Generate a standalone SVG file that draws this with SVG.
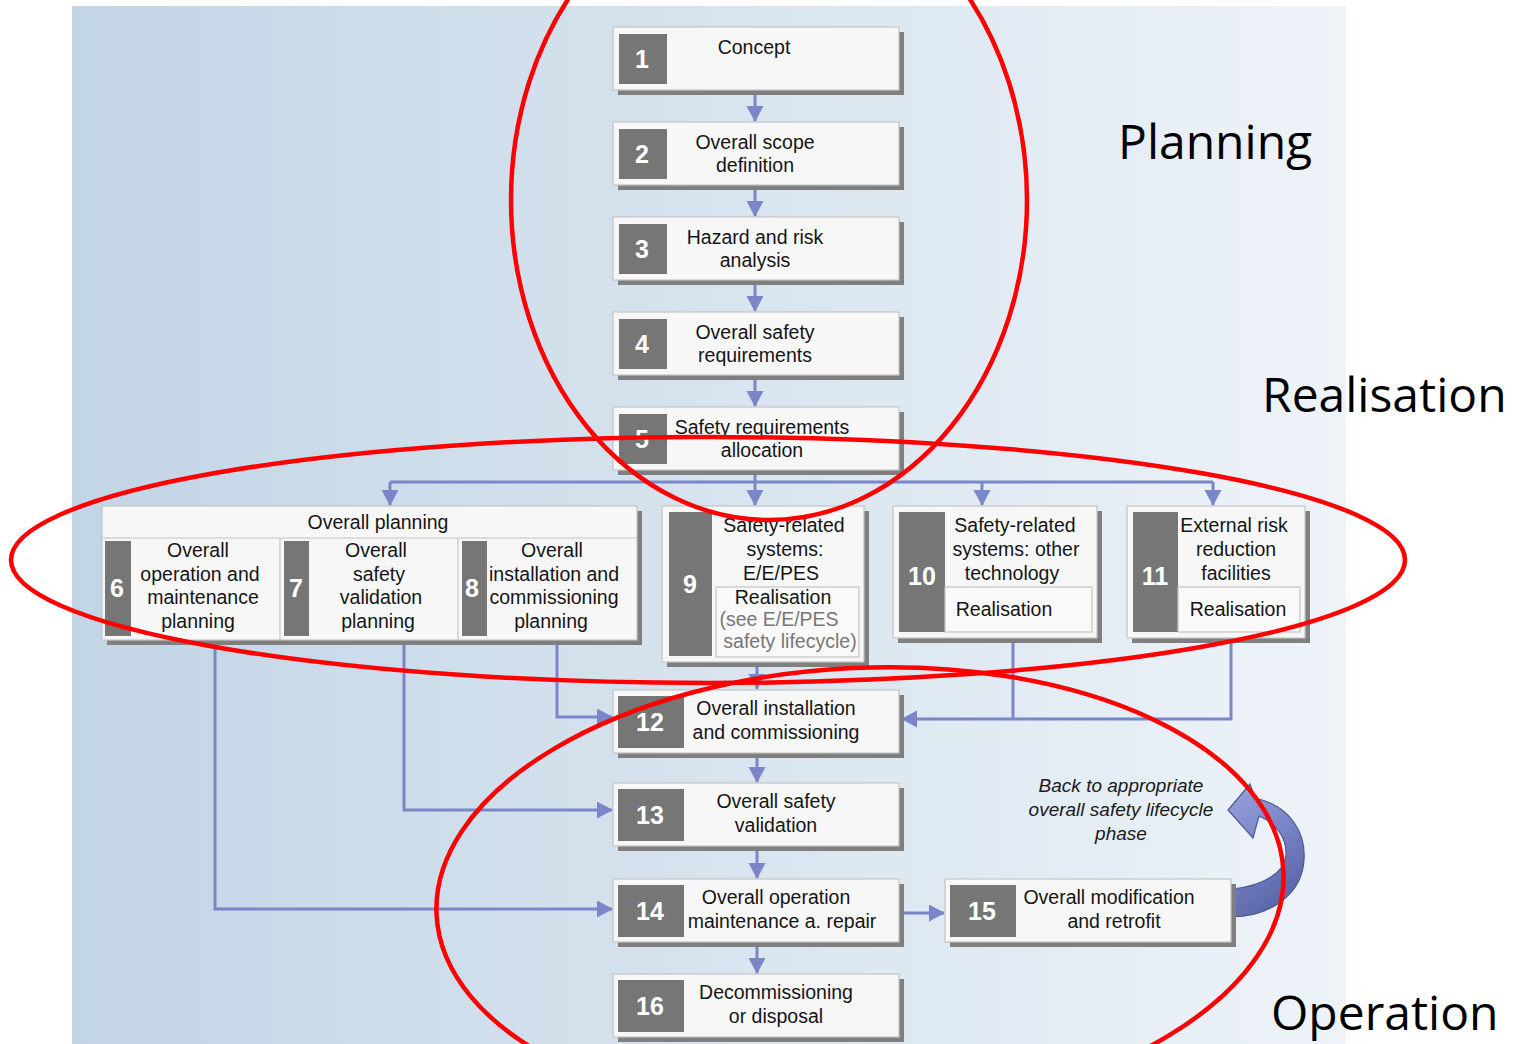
<svg xmlns="http://www.w3.org/2000/svg" width="1515" height="1044" viewBox="0 0 1515 1044">
  <defs>
    <linearGradient id="bg" x1="0" y1="0" x2="1" y2="0">
      <stop offset="0" stop-color="#c2d5e6"/>
      <stop offset="0.55" stop-color="#d9e5ef"/>
      <stop offset="1" stop-color="#eef3f8"/>
    </linearGradient>
    <linearGradient id="loop" x1="0" y1="0" x2="0.4" y2="1">
      <stop offset="0" stop-color="#9aa4de"/>
      <stop offset="0.5" stop-color="#7b86c8"/>
      <stop offset="1" stop-color="#5c67a8"/>
    </linearGradient>
    <marker id="ah" markerUnits="userSpaceOnUse" markerWidth="18" markerHeight="18" refX="15" refY="8.5" orient="auto">
      <path d="M0,0 L16,8.5 L0,17 Z" fill="#7b86c8"/>
    </marker>
    <style>
      .box { fill: #f7f7f7; stroke: #c4c4c4; stroke-width: 1.2; }
      .sub { fill: #f9f9f9; stroke: #c4c4c4; stroke-width: 1.2; }
      .shadow { fill: #7f7f7f; }
      .num { fill: #767676; }
      .numt { font-family: "Liberation Sans", Arial, sans-serif; font-size: 25px; font-weight: bold; fill: #ffffff; text-anchor: middle; }
      .t { font-family: "Liberation Sans", Arial, sans-serif; font-size: 19.5px; fill: #151515; text-anchor: middle; }
      .g { fill: #777777; }
      .it { font-family: "Liberation Sans", Arial, sans-serif; font-size: 19px; font-style: italic; fill: #1a1a1a; text-anchor: middle; }
      .lbl { font-family: "Open Sans", "Noto Sans", sans-serif; font-size: 48px; fill: #000000; }
      .wire { fill: none; stroke: #7b86c8; stroke-width: 3; }
      .ring { fill: none; stroke: #ff0000; stroke-width: 4.5; }
    </style>
  </defs>

  <!-- backdrop -->
  <rect x="0" y="0" width="1515" height="1044" fill="#ffffff"/>
  <rect x="72" y="6" width="1274" height="1038" fill="url(#bg)"/>

  <!-- connectors -->
  <g id="connectors">
    <path class="wire" d="M755,90 V121" marker-end="url(#ah)"/>
    <path class="wire" d="M755,185 V216" marker-end="url(#ah)"/>
    <path class="wire" d="M755,280 V311" marker-end="url(#ah)"/>
    <path class="wire" d="M755,375 V406" marker-end="url(#ah)"/>
    <path class="wire" d="M755,470 V505" marker-end="url(#ah)"/>
    <path class="wire" d="M390,482 H1213"/>
    <path class="wire" d="M390,482 V505" marker-end="url(#ah)"/>
    <path class="wire" d="M982,482 V505" marker-end="url(#ah)"/>
    <path class="wire" d="M1213,482 V505" marker-end="url(#ah)"/>
    <path class="wire" d="M757,664 V689" marker-end="url(#ah)"/>
    <path class="wire" d="M557,642 V717 H612" marker-end="url(#ah)"/>
    <path class="wire" d="M404,642 V810 H612" marker-end="url(#ah)"/>
    <path class="wire" d="M215,642 V909 H612" marker-end="url(#ah)"/>
    <path class="wire" d="M1013,640 V719"/>
    <path class="wire" d="M1231,640 V719 H902" marker-end="url(#ah)"/>
    <path class="wire" d="M757,753 V782" marker-end="url(#ah)"/>
    <path class="wire" d="M757,846 V878" marker-end="url(#ah)"/>
    <path class="wire" d="M757,942 V973" marker-end="url(#ah)"/>
    <path class="wire" d="M899,913 H944" marker-end="url(#ah)"/>
    <!-- loop-back arrow from 15 -->
    <path d="M1232,889 C1264,886 1285,872 1286,855 C1287,838 1276,823 1259,816 L1253,838 L1228,810 L1250,784 L1255,798 C1290,806 1306,832 1304,860 C1302,895 1270,916 1232,917 Z" fill="url(#loop)" stroke="#4d5894" stroke-width="1.2"/>
  </g>

  <!-- main column -->
  <g id="n1">
    <rect class="shadow" x="618" y="32" width="286" height="63"/>
    <rect class="box" x="613" y="27" width="286" height="63"/>
    <rect class="num" x="619" y="34" width="48" height="50"/>
    <text class="numt" x="642" y="68">1</text>
    <text class="t" x="754" y="54">Concept</text>
  </g>
  <g id="n2">
    <rect class="shadow" x="618" y="127" width="286" height="63"/>
    <rect class="box" x="613" y="122" width="286" height="63"/>
    <rect class="num" x="619" y="129" width="48" height="50"/>
    <text class="numt" x="642" y="163">2</text>
    <text class="t" x="755" y="149">Overall scope</text>
    <text class="t" x="755" y="172">definition</text>
  </g>
  <g id="n3">
    <rect class="shadow" x="618" y="222" width="286" height="63"/>
    <rect class="box" x="613" y="217" width="286" height="63"/>
    <rect class="num" x="619" y="224" width="48" height="50"/>
    <text class="numt" x="642" y="258">3</text>
    <text class="t" x="755" y="244">Hazard and risk</text>
    <text class="t" x="755" y="267">analysis</text>
  </g>
  <g id="n4">
    <rect class="shadow" x="618" y="317" width="286" height="63"/>
    <rect class="box" x="613" y="312" width="286" height="63"/>
    <rect class="num" x="619" y="319" width="48" height="50"/>
    <text class="numt" x="642" y="353">4</text>
    <text class="t" x="755" y="339">Overall safety</text>
    <text class="t" x="755" y="362">requirements</text>
  </g>
  <g id="n5">
    <rect class="shadow" x="618" y="412" width="286" height="63"/>
    <rect class="box" x="613" y="407" width="286" height="63"/>
    <rect class="num" x="619" y="414" width="48" height="50"/>
    <text class="numt" x="642" y="448">5</text>
    <text class="t" x="762" y="434">Safety requirements</text>
    <text class="t" x="762" y="457">allocation</text>
  </g>

  <!-- overall planning, phases 6 to 8 -->
  <g id="n6-8">
    <rect class="shadow" x="107" y="511" width="535" height="134"/>
    <rect class="box" x="102" y="506" width="535" height="134"/>
    <line x1="102" y1="538" x2="637" y2="538" stroke="#c4c4c4" stroke-width="1.2"/>
    <line x1="280" y1="538" x2="280" y2="640" stroke="#c4c4c4" stroke-width="1.2"/>
    <line x1="458" y1="538" x2="458" y2="640" stroke="#c4c4c4" stroke-width="1.2"/>
    <text class="t" x="378" y="529">Overall planning</text>
  </g>
  <g id="n6">
    <rect class="num" x="105" y="541" width="26" height="95"/>
    <text class="numt" x="117" y="597">6</text>
    <text class="t" x="198" y="557">Overall</text>
    <text class="t" x="200" y="581">operation and</text>
    <text class="t" x="203" y="604">maintenance</text>
    <text class="t" x="198" y="628">planning</text>
  </g>
  <g id="n7">
    <rect class="num" x="284" y="541" width="25" height="95"/>
    <text class="numt" x="296" y="597">7</text>
    <text class="t" x="376" y="557">Overall</text>
    <text class="t" x="379" y="581">safety</text>
    <text class="t" x="381" y="604">validation</text>
    <text class="t" x="378" y="628">planning</text>
  </g>
  <g id="n8">
    <rect class="num" x="462" y="541" width="25" height="95"/>
    <text class="numt" x="472" y="597">8</text>
    <text class="t" x="552" y="557">Overall</text>
    <text class="t" x="554" y="581">installation and</text>
    <text class="t" x="554" y="604">commissioning</text>
    <text class="t" x="551" y="628">planning</text>
  </g>

  <!-- realisation phases 9 to 11 -->
  <g id="n9">
    <rect class="shadow" x="667" y="511" width="202" height="156"/>
    <rect class="box" x="662" y="506" width="202" height="156"/>
    <rect class="num" x="669" y="512" width="43" height="144"/>
    <text class="numt" x="690" y="593">9</text>
    <text class="t" x="784" y="532">Safety-related</text>
    <text class="t" x="785" y="556">systems:</text>
    <text class="t" x="781" y="580">E/E/PES</text>
    <rect class="sub" x="716" y="587" width="143" height="70"/>
    <text class="t" x="783" y="604">Realisation</text>
    <text class="t g" x="779" y="626" font-size="18.5">(see E/E/PES</text>
    <text class="t g" x="790" y="648" font-size="18.5">safety lifecycle)</text>
  </g>
  <g id="n10">
    <rect class="shadow" x="898" y="511" width="204" height="132"/>
    <rect class="box" x="893" y="506" width="204" height="132"/>
    <rect class="num" x="899" y="512" width="46" height="120"/>
    <text class="numt" x="922" y="585">10</text>
    <text class="t" x="1015" y="532">Safety-related</text>
    <text class="t" x="1016" y="556">systems: other</text>
    <text class="t" x="1012" y="580">technology</text>
    <rect class="sub" x="945" y="587" width="147" height="45"/>
    <text class="t" x="1004" y="616">Realisation</text>
  </g>
  <g id="n11">
    <rect class="shadow" x="1132" y="511" width="178" height="132"/>
    <rect class="box" x="1127" y="506" width="178" height="132"/>
    <rect class="num" x="1133" y="512" width="45" height="120"/>
    <text class="numt" x="1155" y="585">11</text>
    <text class="t" x="1234" y="532">External risk</text>
    <text class="t" x="1236" y="556">reduction</text>
    <text class="t" x="1236" y="580">facilities</text>
    <rect class="sub" x="1178" y="587" width="122" height="45"/>
    <text class="t" x="1238" y="616">Realisation</text>
  </g>

  <!-- operation phases 12 to 16 -->
  <g id="n12">
    <rect class="shadow" x="618" y="695" width="286" height="63"/>
    <rect class="box" x="613" y="690" width="286" height="63"/>
    <rect class="num" x="618" y="696" width="66" height="52"/>
    <text class="numt" x="650" y="731">12</text>
    <text class="t" x="776" y="715">Overall installation</text>
    <text class="t" x="776" y="739">and commissioning</text>
  </g>
  <g id="n13">
    <rect class="shadow" x="618" y="788" width="286" height="63"/>
    <rect class="box" x="613" y="783" width="286" height="63"/>
    <rect class="num" x="618" y="789" width="66" height="52"/>
    <text class="numt" x="650" y="824">13</text>
    <text class="t" x="776" y="808">Overall safety</text>
    <text class="t" x="776" y="832">validation</text>
  </g>
  <g id="n14">
    <rect class="shadow" x="618" y="884" width="286" height="63"/>
    <rect class="box" x="613" y="879" width="286" height="63"/>
    <rect class="num" x="618" y="885" width="66" height="52"/>
    <text class="numt" x="650" y="920">14</text>
    <text class="t" x="776" y="904">Overall operation</text>
    <text class="t" x="782" y="928">maintenance a. repair</text>
  </g>
  <g id="n15">
    <rect class="shadow" x="950" y="884" width="286" height="63"/>
    <rect class="box" x="945" y="879" width="286" height="63"/>
    <rect class="num" x="950" y="885" width="66" height="52"/>
    <text class="numt" x="982" y="920">15</text>
    <text class="t" x="1109" y="904">Overall modification</text>
    <text class="t" x="1114" y="928">and retrofit</text>
  </g>
  <g id="n16">
    <rect class="shadow" x="618" y="979" width="286" height="63"/>
    <rect class="box" x="613" y="974" width="286" height="63"/>
    <rect class="num" x="618" y="980" width="66" height="52"/>
    <text class="numt" x="650" y="1015">16</text>
    <text class="t" x="776" y="999">Decommissioning</text>
    <text class="t" x="776" y="1023">or disposal</text>
  </g>

  <g id="loop-note">
    <text class="it" x="1121" y="792">Back to appropriate</text>
    <text class="it" x="1121" y="816">overall safety lifecycle</text>
    <text class="it" x="1121" y="840">phase</text>
  </g>

  <!-- stage labels -->
  <g id="labels">
    <text class="lbl" x="1118" y="159">Planning</text>
    <text class="lbl" x="1262" y="412">Realisation</text>
    <text class="lbl" x="1271" y="1030">Operation</text>
  </g>

  <!-- stage outlines -->
  <g id="outlines">
    <ellipse class="ring" cx="769" cy="200" rx="258" ry="320"/>
    <ellipse class="ring" cx="708" cy="560" rx="697" ry="123"/>
    <ellipse class="ring" cx="860" cy="893" rx="424" ry="225" transform="rotate(-3 860 893)"/>
  </g>
</svg>
